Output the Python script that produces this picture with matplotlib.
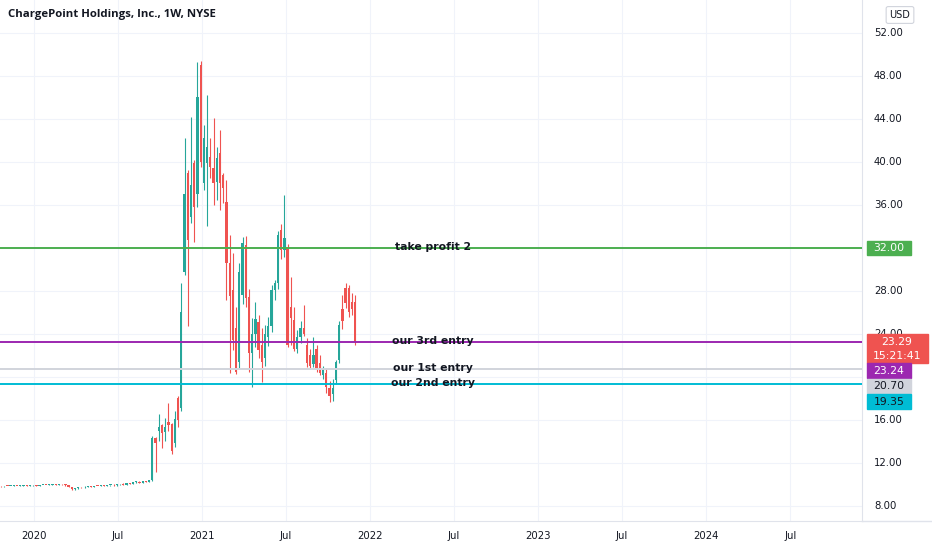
import matplotlib
matplotlib.use("Agg")
import matplotlib.pyplot as plt
import matplotlib.dates as mdates
import matplotlib.transforms as mtransforms
from matplotlib.patches import Rectangle
import numpy as np
import pandas as pd

# weekly candles CHPT, first week 2019-10-21
opens = [9.85, 9.82, 9.86, 9.84, 9.87, 9.88, 9.86, 9.89, 9.90, 9.88, 9.91, 9.93, 9.90, 9.94, 9.96, 9.95,
         9.98, 10.02, 9.97, 10.03, 10.00, 9.92, 9.78, 9.55, 9.64, 9.74, 9.72, 9.80, 9.84, 9.80, 9.86, 9.84,
         9.89, 9.87, 9.92, 9.95, 9.91, 10.00, 10.05, 9.99, 10.12, 10.08, 10.20, 10.25, 10.18, 10.30, 10.26,
         10.42, 14.30, 15.00, 15.50, 14.90, 15.80, 15.60, 13.90, 18.00, 17.10, 29.80, 39.00, 34.90, 39.90,
         37.00, 49.00, 38.00, 39.90, 40.50, 39.40, 38.10, 40.80, 38.80, 36.30, 30.60, 28.10, 24.60, 21.40,
         27.60, 32.30, 27.40, 22.20, 24.00, 25.10, 23.00, 21.80, 23.70, 24.70, 28.10, 28.70, 33.70, 31.80,
         32.00, 26.50, 25.30, 22.60, 23.70, 24.60, 23.00, 22.00, 21.20, 22.60, 21.30, 20.20, 20.40, 19.00,
         18.40, 19.70, 21.60, 26.30, 28.30, 28.30, 27.00, 27.00]
highs = [9.88, 9.89, 9.88, 9.90, 9.91, 9.90, 9.92, 9.93, 9.92, 9.94, 9.96, 9.95, 9.97, 9.99, 9.98, 10.01,
         10.04, 10.04, 10.05, 10.06, 10.02, 9.95, 9.80, 9.68, 9.78, 9.80, 9.84, 9.86, 9.86, 9.88, 9.88, 9.91,
         9.92, 9.94, 9.97, 10.00, 10.02, 10.08, 10.10, 10.14, 10.18, 10.22, 10.28, 10.30, 10.32, 10.36, 10.45,
         14.50, 14.40, 16.60, 15.60, 16.20, 17.60, 15.70, 16.80, 18.20, 28.70, 42.20, 39.30, 44.20, 40.20,
         49.30, 49.40, 43.40, 46.20, 42.20, 44.10, 41.40, 43.00, 39.00, 38.30, 33.20, 31.50, 26.50, 30.60,
         33.00, 33.10, 28.20, 25.50, 27.00, 25.80, 24.60, 24.80, 25.60, 28.60, 29.00, 33.60, 34.20, 36.90,
         32.40, 29.30, 26.50, 24.40, 25.20, 26.70, 23.60, 22.60, 23.70, 23.00, 22.00, 21.00, 20.80, 19.60,
         19.80, 21.60, 25.20, 27.60, 28.70, 28.60, 27.80, 27.60]
lows = [9.80, 9.80, 9.82, 9.83, 9.85, 9.84, 9.85, 9.87, 9.86, 9.87, 9.90, 9.88, 9.89, 9.93, 9.92, 9.94,
        9.97, 9.95, 9.96, 9.98, 9.88, 9.72, 9.48, 9.45, 9.60, 9.70, 9.70, 9.76, 9.78, 9.79, 9.82, 9.83,
        9.85, 9.86, 9.90, 9.88, 9.90, 9.98, 9.96, 9.98, 10.05, 10.06, 10.15, 10.16, 10.16, 10.22, 10.24,
        10.35, 11.20, 14.00, 13.40, 14.00, 15.00, 12.80, 13.50, 15.30, 16.80, 29.50, 24.70, 34.30, 32.60,
        35.80, 39.50, 37.40, 34.00, 38.50, 36.00, 36.50, 35.50, 36.20, 27.20, 20.40, 22.50, 20.30, 20.80,
        26.80, 26.50, 20.50, 19.10, 22.80, 21.80, 19.50, 21.00, 22.90, 24.20, 27.20, 28.20, 31.00, 31.20,
        22.80, 23.00, 22.40, 22.20, 23.20, 23.80, 20.90, 20.80, 20.90, 20.50, 20.20, 19.80, 18.50, 17.70,
        17.80, 19.30, 21.30, 24.50, 26.40, 25.60, 25.80, 23.00]
closes = [9.82, 9.86, 9.84, 9.87, 9.88, 9.86, 9.89, 9.90, 9.88, 9.91, 9.93, 9.90, 9.94, 9.96, 9.95, 9.98,
          10.02, 9.97, 10.03, 10.00, 9.92, 9.78, 9.55, 9.64, 9.74, 9.72, 9.80, 9.84, 9.80, 9.86, 9.84, 9.89,
          9.87, 9.92, 9.95, 9.91, 10.00, 10.05, 9.99, 10.12, 10.08, 10.20, 10.25, 10.18, 10.30, 10.26, 10.42,
          14.30, 13.90, 15.30, 14.80, 15.30, 15.50, 13.10, 16.10, 16.00, 26.00, 37.00, 32.70, 37.90, 35.80,
          46.00, 40.00, 42.20, 41.40, 39.50, 38.00, 40.40, 38.00, 37.60, 30.60, 27.50, 23.40, 20.50, 29.80,
          32.50, 27.30, 22.20, 24.00, 25.40, 22.50, 21.40, 24.00, 24.70, 28.10, 28.70, 33.20, 31.80, 32.90,
          23.00, 25.50, 22.60, 23.70, 24.60, 24.00, 21.30, 21.00, 22.00, 20.80, 20.40, 20.70, 19.10, 18.20,
          19.00, 21.40, 24.80, 25.20, 26.90, 26.00, 26.30, 23.29]

level_prices = [32.00, 23.24, 20.70, 19.35]
level_names = ["take profit 2", "our 3rd entry", "our 1st entry", "our 2nd entry"]
level_colors = ["#4caf50", "#9c27b0", "#d1d4dc", "#00bcd4"]
level_text_colors = ["white", "white", "#131722", "#131722"]

last_price = 23.29
countdown = "15:21:41"
price_ticks = [8, 12, 16, 24, 28, 36, 40, 44, 48, 52]   # 20 and 32 sit under the label boxes
grid_ticks = [8, 12, 16, 20, 24, 28, 32, 36, 40, 44, 48, 52]
date_ticks = ["2020-01-01", "2020-07-01", "2021-01-01", "2021-07-01", "2022-01-01",
              "2022-07-01", "2023-01-01", "2023-07-01", "2024-01-01", "2024-07-01"]
date_labels = ["2020", "Jul", "2021", "Jul", "2022", "Jul", "2023", "Jul", "2024", "Jul"]

up_col = "#26a69a"
down_col = "#ef5350"

W, H = 932, 550
fig = plt.figure(figsize=(W / 100, H / 100), dpi=100)
bot = (H - 521) / H
top_h = 521 / H
ax = fig.add_axes([0, bot, 862 / W, top_h])
axr = fig.add_axes([862 / W, bot, 70 / W, top_h])

dates = pd.date_range("2019-10-21", periods=len(opens), freq="7D")
xd = mdates.date2num(dates)
o = np.array(opens)
h = np.array(highs)
l = np.array(lows)
c = np.array(closes)
cols = np.where(c >= o, up_col, down_col)

ax.vlines(xd, l, h, colors=cols, lw=0.8, zorder=3)
body = np.maximum(np.abs(c - o), 0.08)
ax.bar(xd, body, bottom=np.minimum(o, c), width=5.0, color=cols, lw=0, zorder=4)

ymin, ymax = 6.60, 55.07
x0 = mdates.date2num(pd.Timestamp("2020-01-01"))
ax.set_xlim(x0 - 74, x0 + 1799)
ax.set_ylim(ymin, ymax)

for p, col in zip(level_prices, level_colors):
    ax.axhline(p, color=col, lw=1.4, zorder=5)

trans = mtransforms.blended_transform_factory(ax.transAxes, ax.transData)
for p, name in zip(level_prices, level_names):
    ax.text(433 / 862, p + 0.1, name, transform=trans, ha="center", va="center",
            fontsize=7.8, fontweight="bold", color="#131722", zorder=6)

ax.set_yticks(grid_ticks)
ax.set_xticks(mdates.date2num(pd.to_datetime(date_ticks)))
ax.set_xticklabels(date_labels)
ax.tick_params(axis="y", left=False, labelleft=False)
ax.tick_params(axis="x", length=0, pad=7, labelsize=7.3, colors="#131722")
ax.grid(color="#f0f3fa", lw=0.8, zorder=0)
for s in ["top", "left"]:
    ax.spines[s].set_visible(False)
ax.spines["bottom"].set_color("#e0e3eb")
ax.spines["right"].set_color("#e0e3eb")

# right price scale
axr.set_ylim(ymin, ymax)
axr.set_xlim(0, 1)
axr.axis("off")
for p in price_ticks:
    axr.text(0.17, p, "%.2f" % p, ha="left", va="center", fontsize=7.3, color="#131722", zorder=1)
axr.plot([0, 1], [ymin, ymin], color="#e0e3eb", lw=1, clip_on=False)

px = (ymax - ymin) / 521.0
bh = 14.5 * px
bx0, bw = 5 / 70, 44 / 70
rtrans = mtransforms.blended_transform_factory(axr.transAxes, axr.transData)

# take profit box at its own level
axr.add_patch(Rectangle((bx0, level_prices[0] - bh / 2), bw, bh, transform=rtrans,
                        color=level_colors[0], zorder=3))
axr.text(bx0 + bw / 2, level_prices[0], "%.2f" % level_prices[0], transform=rtrans,
         ha="center", va="center", fontsize=7.8, color="white", zorder=4)

# last price box (two lines)
red_top = last_price + bh / 2
axr.add_patch(Rectangle((bx0, red_top - 2 * bh), 61 / 70, 2 * bh, transform=rtrans,
                        color=down_col, zorder=3))
axr.text(bx0 + 30 / 70, last_price, "%.2f" % last_price, transform=rtrans,
         ha="center", va="center", fontsize=7.8, color="white", zorder=4)
axr.text(bx0 + 30 / 70, last_price - bh, countdown, transform=rtrans,
         ha="center", va="center", fontsize=7.8, color="white", zorder=4)

# other level boxes stacked below the last price box
cur = red_top - 2 * bh
for p, col, tc in zip(level_prices[1:], level_colors[1:], level_text_colors[1:]):
    axr.add_patch(Rectangle((bx0, cur - bh), bw, bh, transform=rtrans, color=col, zorder=3))
    axr.text(bx0 + bw / 2, cur - bh / 2, "%.2f" % p, transform=rtrans,
             ha="center", va="center", fontsize=7.8, color=tc, zorder=4)
    cur -= bh + 1.0 * px

# title and currency
fig.text(8 / W, 1 - 15 / H, "ChargePoint Holdings, Inc., 1W, NYSE", ha="left", va="center",
         fontsize=8.2, fontweight="bold", family="Open Sans", color="#131722")
fig.text(900 / W, 1 - 15 / H, "USD", ha="center", va="center", fontsize=7, color="#131722",
         bbox=dict(boxstyle="round,pad=0.35,rounding_size=0.2", fc="white", ec="#d1d4dc", lw=0.8))

fig.savefig("out.png", dpi=100, facecolor="white")
